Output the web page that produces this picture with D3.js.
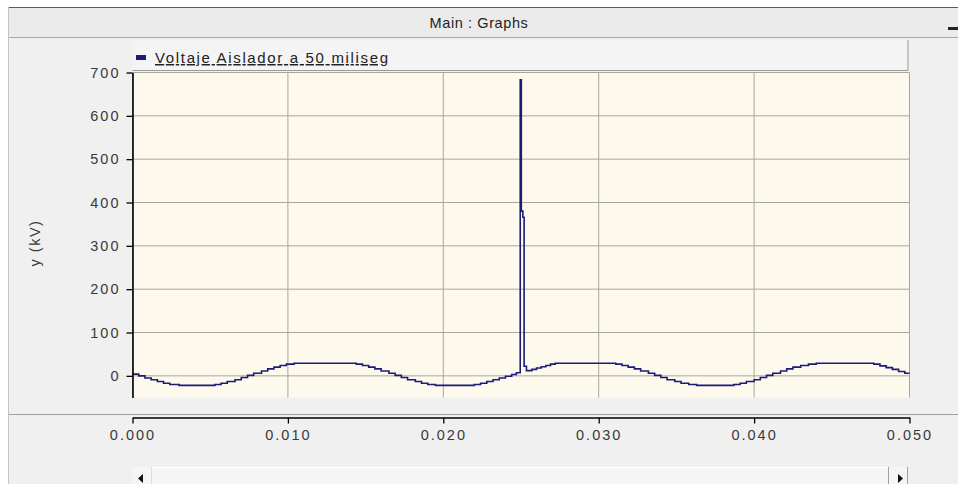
<!DOCTYPE html>
<html lang="es">

<head>
    <meta charset="UTF-8">
    <script src="https://cdnjs.cloudflare.com/ajax/libs/d3/7.9.0/d3.min.js"></script>
    <title>Main : Graphs</title>
    <style>
        body {
            margin: 0;
            background-color: white;
            font-family: "Liberation Sans", Arial, sans-serif;
        }

        svg {
            display: block;
        }

        .tick text {
            font-size: 14.5px;
            fill: #3a3a3a;
            letter-spacing: 2px;
        }
    </style>
</head>

<body>
    <div id="content"></div>
    <script>
        // serie: tension en el aislador (kV) vs tiempo (s)
        const seriesName = "Voltaje Aislador a 50 miliseg";
        const tiempoS = [
            0.0000, 0.0004, 0.0008, 0.0012, 0.0016, 0.0020, 0.0024, 0.0030,
            0.0053, 0.0057, 0.0061, 0.0066, 0.0070, 0.0074, 0.0078, 0.0083, 0.0087, 0.0091, 0.0095, 0.0099, 0.0104,
            0.0144, 0.0148, 0.0152, 0.0156, 0.0160, 0.0165, 0.0169, 0.0173, 0.0177, 0.0182, 0.0186, 0.0190, 0.0195,
            0.0220, 0.0224, 0.0228, 0.0232, 0.0236, 0.0240, 0.0244, 0.0247,
            0.02495, 0.02502, 0.02512, 0.02520, 0.02535,
            0.0257, 0.0260, 0.0263, 0.0266, 0.0269, 0.0272,
            0.0311, 0.0315, 0.0319, 0.0323, 0.0327, 0.0332, 0.0336, 0.0340, 0.0344, 0.0349, 0.0353, 0.0358, 0.0363,
            0.0387, 0.0391, 0.0395, 0.0400, 0.0404, 0.0408, 0.0412, 0.0417, 0.0421, 0.0425, 0.0430, 0.0435, 0.0440,
            0.0477, 0.0481, 0.0485, 0.0489, 0.0493, 0.0497, 0.0500
        ];
        const voltajeKV = [
            4, 0, -5, -9, -13, -17, -20, -22,
            -20, -17, -13, -9, -4, 1, 6, 11, 16, 20, 24, 27, 29,
            27, 24, 20, 16, 11, 6, 1, -4, -9, -13, -17, -20, -22,
            -20, -17, -13, -9, -5, -1, 3, 7,
            683, 380, 366, 22, 12,
            15, 18, 21, 24, 27, 29,
            27, 24, 20, 16, 11, 6, 1, -4, -9, -13, -17, -20, -22,
            -20, -17, -13, -9, -4, 1, 6, 11, 16, 20, 24, 27, 29,
            27, 23, 19, 15, 10, 6, 6
        ];
        const xTickValues = [0, 0.01, 0.02, 0.03, 0.04, 0.05];
        const yTickValues = [0, 100, 200, 300, 400, 500, 600, 700];
        const yDomain = [-50, 700];

        const width = 958;
        const height = 484;
        const plot = { left: 132.5, right: 909.5, top: 72.5, bottom: 397.5 };
        const xAxisY = 417.5;
        const lineColor = "#1c1c78";

        const svg = d3.select("div#content")
            .append("svg")
            .attr("width", width)
            .attr("height", height);

        // window frame
        svg.append("rect").attr("x", 8).attr("y", 7).attr("width", width - 8).attr("height", height - 7)
            .attr("fill", "#f0f0f0");
        svg.append("line").attr("x1", 8).attr("x2", width).attr("y1", 7.5).attr("y2", 7.5)
            .attr("stroke", "#5a5a5a");
        svg.append("line").attr("x1", 8.5).attr("x2", 8.5).attr("y1", 7).attr("y2", height)
            .attr("stroke", "#c4c4c4");

        // title bar
        svg.append("rect").attr("x", 9).attr("y", 8).attr("width", width - 9).attr("height", 29)
            .attr("fill", "#ebebeb");
        svg.append("line").attr("x1", 9).attr("x2", width).attr("y1", 37.5).attr("y2", 37.5)
            .attr("stroke", "#a8a8a8");
        svg.append("text")
            .attr("x", 479).attr("y", 28)
            .attr("text-anchor", "middle")
            .style("font-size", "14.5px")
            .style("letter-spacing", "0.6px")
            .attr("fill", "#222")
            .text("Main : Graphs");
        svg.append("rect").attr("x", 948).attr("y", 27).attr("width", 10).attr("height", 3)
            .attr("fill", "#222");

        // legend strip
        svg.append("rect")
            .attr("x", plot.left).attr("y", 40)
            .attr("width", plot.right - plot.left - 1).attr("height", 30)
            .attr("fill", "#f4f4f4");
        svg.append("path")
            .attr("d", `M${plot.left},70.5H${plot.right - 1.5}V40`)
            .attr("fill", "none")
            .attr("stroke", "#9a9a9a");
        svg.append("rect")
            .attr("x", 136).attr("y", 55).attr("width", 10).attr("height", 5)
            .attr("fill", lineColor);
        svg.append("text")
            .attr("x", 155).attr("y", 63)
            .attr("textLength", 233)
            .attr("lengthAdjust", "spacing")
            .style("font-size", "15px")
            .style("text-decoration", "underline")
            .attr("fill", "#222")
            .text(seriesName);

        // scales
        const x = d3.scaleLinear().domain([0, 0.05]).range([plot.left, plot.right]);
        const y = d3.scaleLinear().domain(yDomain).range([plot.bottom, plot.top]);

        // plot background + grid
        svg.append("rect")
            .attr("x", plot.left).attr("y", plot.top)
            .attr("width", plot.right - plot.left).attr("height", plot.bottom - plot.top)
            .attr("fill", "#fdf9ec");

        svg.append("g").selectAll("line")
            .data(yTickValues)
            .enter().append("line")
            .attr("x1", plot.left).attr("x2", plot.right)
            .attr("y1", d => y(d)).attr("y2", d => y(d))
            .attr("stroke", "#a9a79c");
        svg.append("g").selectAll("line")
            .data(xTickValues)
            .enter().append("line")
            .attr("x1", d => x(d)).attr("x2", d => x(d))
            .attr("y1", plot.top).attr("y2", plot.bottom)
            .attr("stroke", "#a9a79c");

        // separator between plot and x axis
        svg.append("line").attr("x1", 9).attr("x2", width).attr("y1", 414.5).attr("y2", 414.5)
            .attr("stroke", "#a0a0a0");

        // series
        const data = tiempoS.map((t, i) => ({ t: t, v: voltajeKV[i] }));
        const line = d3.line()
            .x(d => x(d.t))
            .y(d => y(d.v))
            .curve(d3.curveStepAfter);
        svg.append("path")
            .datum(data)
            .attr("d", line)
            .attr("fill", "none")
            .attr("stroke", lineColor)
            .attr("stroke-width", 1.6);

        // axes
        const yAxis = d3.axisLeft(y)
            .tickValues(yTickValues)
            .tickSize(6)
            .tickSizeOuter(0)
            .tickPadding(6);
        const gy = svg.append("g")
            .attr("transform", `translate(${plot.left},0)`)
            .call(yAxis);
        gy.select(".domain").attr("stroke", "#000").attr("stroke-width", 1.6);
        gy.selectAll(".tick line").attr("stroke", "#000").attr("stroke-width", 1.3);

        const xAxis = d3.axisBottom(x)
            .tickValues(xTickValues)
            .tickFormat(d3.format(".3f"))
            .tickSize(6)
            .tickSizeOuter(0)
            .tickPadding(6);
        const gx = svg.append("g")
            .attr("transform", `translate(0,${xAxisY})`)
            .call(xAxis);
        gx.select(".domain").attr("stroke", "#000").attr("stroke-width", 1.6);
        gx.selectAll(".tick line").attr("stroke", "#000").attr("stroke-width", 1.3);

        svg.append("text")
            .attr("transform", "translate(40,243) rotate(-90)")
            .attr("text-anchor", "middle")
            .style("font-size", "14.5px")
            .style("letter-spacing", "1.5px")
            .attr("fill", "#3a3a3a")
            .text("y (kV)");

        // horizontal scrollbar
        svg.append("rect")
            .attr("x", plot.left).attr("y", 467)
            .attr("width", plot.right - plot.left - 2).attr("height", 20)
            .attr("fill", "#f5f5f5");
        svg.append("line").attr("x1", 151).attr("x2", 888).attr("y1", 467.5).attr("y2", 467.5)
            .attr("stroke", "#fff");
        svg.append("line").attr("x1", 151.5).attr("x2", 151.5).attr("y1", 467).attr("y2", height)
            .attr("stroke", "#dcdcdc");
        svg.append("line").attr("x1", 888.5).attr("x2", 888.5).attr("y1", 467).attr("y2", height)
            .attr("stroke", "#a0a0a0");
        svg.append("line").attr("x1", 907.5).attr("x2", 907.5).attr("y1", 467).attr("y2", height)
            .attr("stroke", "#a0a0a0");
        svg.append("path").attr("d", "M143,474L138,478.5L143,483Z").attr("fill", "#111");
        svg.append("path").attr("d", "M898,474L903,478.5L898,483Z").attr("fill", "#111");
    </script>
</body>

</html>
